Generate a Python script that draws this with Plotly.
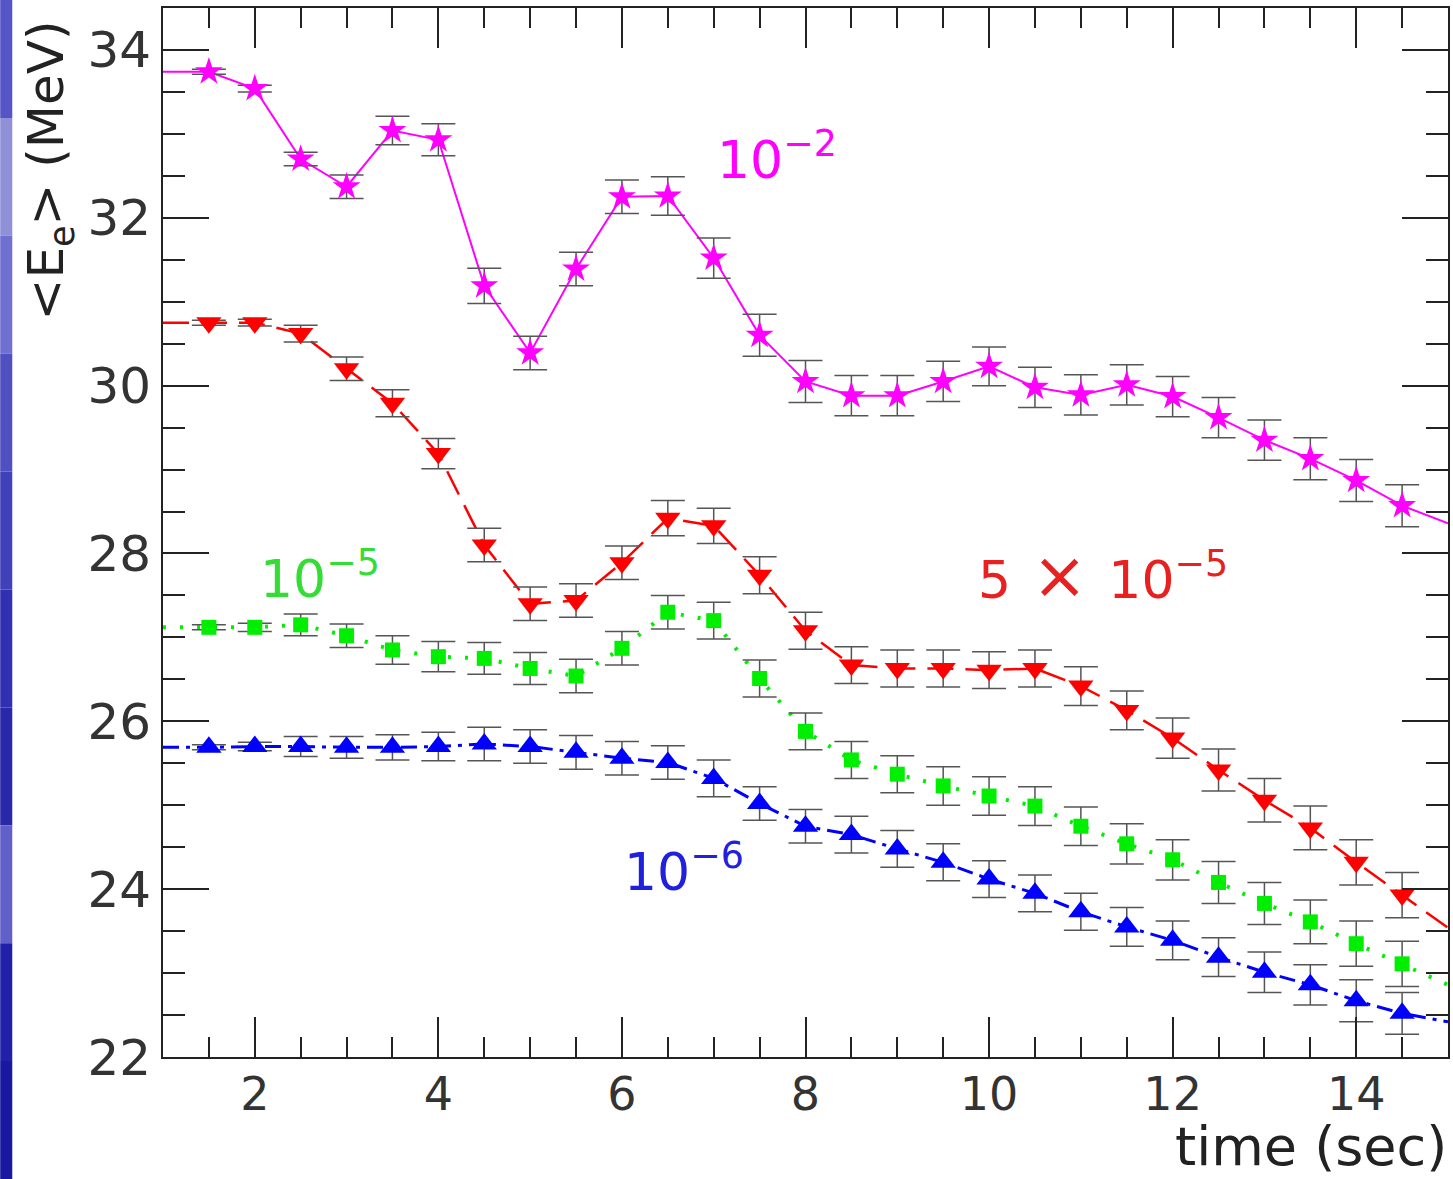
import plotly.graph_objects as go

# ---- data ----
time = [1.5, 2, 2.5, 3, 3.5, 4, 4.5, 5, 5.5, 6, 6.5, 7, 7.5, 8, 8.5, 9, 9.5,
        10, 10.5, 11, 11.5, 12, 12.5, 13, 13.5, 14, 14.5]
t_start, t_end = 1.0, 15.0

e_1e2 = [33.74, 33.54, 32.70, 32.37, 33.04, 32.93, 31.19, 30.39, 31.39, 32.25, 32.26,
         31.52, 30.60, 30.05, 29.88, 29.88, 30.05, 30.23, 29.98, 29.89, 30.01, 29.87,
         29.62, 29.35, 29.13, 28.87, 28.57]
err_1e2 = [0.03, 0.04, 0.08, 0.14, 0.17, 0.19, 0.21, 0.20, 0.20, 0.20, 0.23, 0.24, 0.25,
           0.25, 0.24, 0.24, 0.24, 0.23, 0.24, 0.24, 0.24, 0.24, 0.24, 0.24, 0.25, 0.25, 0.25]
edge_1e2 = [33.74, 28.36]

e_5e5 = [30.75, 30.75, 30.62, 30.20, 29.79, 29.19, 28.10, 27.40, 27.44, 27.89, 28.42,
         28.33, 27.74, 27.08, 26.67, 26.63, 26.63, 26.61, 26.63, 26.42, 26.13, 25.80,
         25.42, 25.06, 24.73, 24.32, 23.93]
err_5e5 = [0.03, 0.04, 0.10, 0.14, 0.16, 0.18, 0.20, 0.20, 0.20, 0.20, 0.21, 0.21, 0.22,
           0.22, 0.22, 0.22, 0.22, 0.22, 0.22, 0.23, 0.23, 0.24, 0.25, 0.26, 0.26, 0.27, 0.27]
edge_5e5 = [30.75, 23.54]

e_1e5 = [27.12, 27.12, 27.15, 27.02, 26.85, 26.77, 26.75, 26.63, 26.54, 26.87, 27.30,
         27.20, 26.51, 25.88, 25.54, 25.37, 25.23, 25.11, 24.99, 24.75, 24.54, 24.35,
         24.08, 23.83, 23.61, 23.35, 23.11]
err_1e5 = [0.03, 0.05, 0.13, 0.14, 0.17, 0.18, 0.19, 0.19, 0.20, 0.20, 0.20, 0.22, 0.22,
           0.22, 0.22, 0.22, 0.23, 0.23, 0.23, 0.23, 0.24, 0.24, 0.25, 0.25, 0.26, 0.27, 0.27]
edge_1e5 = [27.12, 22.86]

e_1e6 = [25.69, 25.70, 25.70, 25.69, 25.69, 25.70, 25.73, 25.70, 25.63, 25.56, 25.51,
         25.32, 25.02, 24.75, 24.65, 24.48, 24.32, 24.12, 23.95, 23.73, 23.55, 23.39,
         23.19, 23.01, 22.86, 22.67, 22.52]
err_1e6 = [0.03, 0.05, 0.12, 0.13, 0.15, 0.17, 0.20, 0.20, 0.20, 0.20, 0.20, 0.22, 0.20,
           0.20, 0.22, 0.22, 0.22, 0.22, 0.22, 0.22, 0.23, 0.23, 0.23, 0.24, 0.24, 0.25, 0.25]
edge_1e6 = [25.69, 22.42]

x_ticks = [2, 4, 6, 8, 10, 12, 14]
y_ticks = [22, 24, 26, 28, 30, 32, 34]

FONT = "DejaVu Sans, Verdana, sans-serif"

series = [
    (e_1e2, err_1e2, edge_1e2, "#ff00ff", "star", 21, dict(width=2, dash="solid"), "10^-2"),
    (e_5e5, err_5e5, edge_5e5, "#ff0000", "triangle-down", 22, dict(width=2.5, dash="26px,12px"), "5x10^-5"),
    (e_1e5, err_1e5, edge_1e5, "#00ee00", "square", 15, dict(width=4, dash="3px,14px"), "10^-5"),
    (e_1e6, err_1e6, edge_1e6, "#0000ff", "triangle-up", 22, dict(width=3, dash="16px,7px,4px,7px"), "10^-6"),
]

fig = go.Figure()
for vals, errs, edge, col, sym, size, ln, name in series:
    fig.add_trace(go.Scatter(
        x=[t_start] + time + [t_end], y=[edge[0]] + vals + [edge[1]],
        mode="lines", line=dict(color=col, **ln), showlegend=False, hoverinfo="skip"))
    fig.add_trace(go.Scatter(
        x=time, y=vals, mode="markers", name=name, showlegend=False,
        marker=dict(symbol=sym, size=size, color=col, line=dict(width=0)),
        error_y=dict(type="data", array=errs, color="#555555", thickness=1.5, width=17)))

# left decorative strip
strip_cols = ["#5555c8", "#9090d8", "#7070d0", "#5050c0", "#4040b8", "#3030b0",
              "#2828a8", "#6060c8", "#2020a8", "#1818a0"]
n = len(strip_cols)
for i, c in enumerate(strip_cols):
    fig.add_shape(type="rect", xref="paper", yref="paper",
                  x0=-0.1267, x1=-0.1173,
                  y0=1.0076 - (i + 1) * (1.1239 / n), y1=1.0076 - i * (1.1239 / n),
                  fillcolor=c, line=dict(width=0), layer="below")

annots = [
    dict(x=7.69, y=32.74, text="10<sup>−2</sup>", color="#ff00ff"),
    dict(x=11.24, y=27.74, text="5<span style='font-size:66px'> × </span>10<sup>−5</sup>", color="#e82020"),
    dict(x=2.71, y=27.74, text="10<sup>−5</sup>", color="#33dd33"),
    dict(x=6.68, y=24.25, text="10<sup>−6</sup>", color="#2020dd"),
]
for a in annots:
    fig.add_annotation(x=a["x"], y=a["y"], text=a["text"], showarrow=False,
                       font=dict(family=FONT, size=52, color=a["color"]))

fig.add_annotation(xref="paper", yref="paper", x=-0.088, y=0.845, xanchor="center", yanchor="middle",
                   text="&lt;E<sub>e</sub>&gt; (MeV)", textangle=-90, showarrow=False,
                   font=dict(family=FONT, size=50, color="#222222"))
fig.add_annotation(xref="paper", yref="paper", x=1.0, y=-0.1163, xanchor="right", yanchor="bottom",
                   text="time (sec)", showarrow=False, borderpad=0,
                   font=dict(family=FONT, size=54, color="#222222"))

fig.update_xaxes(range=[1, 15], tickvals=x_ticks, ticks="inside", ticklen=40, tickwidth=2,
                 tickcolor="#222", showline=True, linecolor="#222", linewidth=2,
                 mirror="ticks", showgrid=False, zeroline=False, ticklabelstandoff=-4,
                 tickfont=dict(family=FONT, size=46, color="#333"),
                 minor=dict(dtick=0.5, ticks="inside", ticklen=20, tickwidth=2, tickcolor="#222"))
fig.update_yaxes(range=[22, 34.5], tickvals=y_ticks, ticks="inside", ticklen=46, tickwidth=2,
                 tickcolor="#222", showline=True, linecolor="#222", linewidth=2,
                 mirror="ticks", showgrid=False, zeroline=False,
                 tickfont=dict(family=FONT, size=50, color="#333"),
                 minor=dict(dtick=0.5, ticks="inside", ticklen=22, tickwidth=2, tickcolor="#222"))

fig.update_layout(width=1453, height=1179, margin=dict(l=163, r=3, t=8, b=122),
                  paper_bgcolor="white", plot_bgcolor="white", showlegend=False)

fig.write_html("out.html")
